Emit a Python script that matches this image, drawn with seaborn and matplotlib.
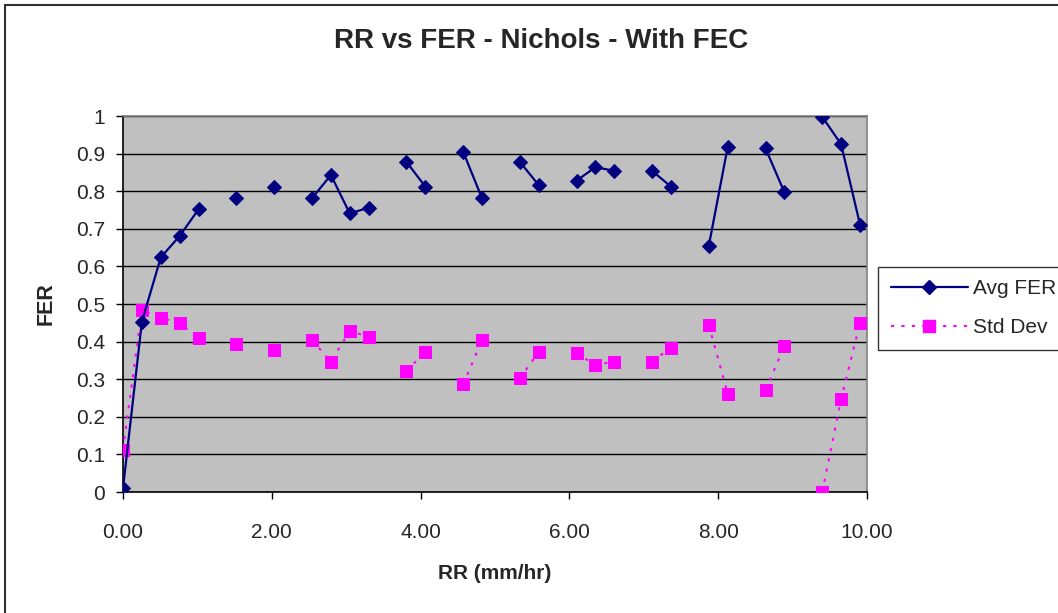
import numpy as np
import pandas as pd
import matplotlib
matplotlib.use("Agg")
import matplotlib.pyplot as plt
import seaborn as sns
from matplotlib.lines import Line2D

# Data (bin index k; RR = k * 0.254 mm/hr)
bins = [0, 1, 2, 3, 4, 6, 8, 10, 11, 12, 13, 15, 16, 18, 19, 21, 22, 24, 25, 26,
        28, 29, 31, 32, 34, 35, 37, 38, 39]
avg_fer = [0.01, 0.453, 0.624, 0.681, 0.752, 0.781, 0.812, 0.781, 0.843, 0.741, 0.756,
           0.878, 0.812, 0.905, 0.781, 0.878, 0.816, 0.828, 0.864, 0.854,
           0.854, 0.812, 0.655, 0.918, 0.914, 0.797, 0.998, 0.925, 0.711]
std_dev = [0.113, 0.484, 0.464, 0.449, 0.409, 0.393, 0.378, 0.404, 0.347, 0.428, 0.413,
           0.322, 0.373, 0.286, 0.404, 0.302, 0.373, 0.369, 0.338, 0.347,
           0.347, 0.384, 0.444, 0.261, 0.271, 0.388, 0.0, 0.247, 0.450]
x_ticks = [0, 2, 4, 6, 8, 10]
x_tick_labels = ["0.00", "2.00", "4.00", "6.00", "8.00", "10.00"]
y_ticks = [0, 0.1, 0.2, 0.3, 0.4, 0.5, 0.6, 0.7, 0.8, 0.9, 1.0]
y_tick_labels = ["0", "0.1", "0.2", "0.3", "0.4", "0.5", "0.6", "0.7", "0.8", "0.9", "1"]

rr = [k * 0.254 for k in bins]
# segments: consecutive bins connected
seg = []
s = 0
for i, k in enumerate(bins):
    if i > 0 and k != bins[i - 1] + 1:
        s += 1
    seg.append(s)

df = pd.DataFrame({"RR": rr, "Avg FER": avg_fer, "Std Dev": std_dev, "seg": seg})

sns.set_style("white")
plt.rcParams["font.family"] = ["Liberation Sans", "DejaVu Sans"]

W, H = 1058, 613
fig = plt.figure(figsize=(W / 100, H / 100), dpi=100)
ax = fig.add_axes([123 / W, 1 - 492 / H, (867 - 123) / W, (492 - 116) / H])
ax.set_facecolor("#C0C0C0")

navy = "#000080"
mag = "#FF00FF"
dot = (0, (1.5, 3.5))

sns.lineplot(data=df, x="RR", y="Std Dev", units="seg", estimator=None, ax=ax,
             color=mag, linestyle=dot, linewidth=1.5, marker="s",
             markersize=8, markeredgecolor=mag, markerfacecolor=mag, sort=False, zorder=3)
sns.lineplot(data=df, x="RR", y="Avg FER", units="seg", estimator=None, ax=ax,
             color=navy, linewidth=1.6, marker="D", markersize=7.5,
             markeredgecolor=navy, markerfacecolor=navy, sort=False, zorder=4)

ax.set_xlim(0, 10)
ax.set_ylim(0, 1)
ax.set_xticks(x_ticks)
ax.set_xticklabels(x_tick_labels)
ax.set_yticks(y_ticks)
ax.set_yticklabels(y_tick_labels)
ax.yaxis.grid(True, color="black", linewidth=1)
ax.xaxis.grid(False)
ax.set_axisbelow(True)
ax.tick_params(axis="both", direction="out", length=5, width=1, color="black",
               labelsize=15, left=True, bottom=True)
ax.tick_params(axis="x", pad=17)
ax.tick_params(axis="y", pad=8)
for sp in ax.spines.values():
    sp.set_color("#808080")
    sp.set_linewidth(1.2)
ax.spines["left"].set_color("black")
ax.spines["bottom"].set_color("black")

ax.set_xlabel("RR (mm/hr)", fontsize=15, fontweight="bold")
ax.set_ylabel("FER", fontsize=15.5, fontweight="bold")
ax.xaxis.set_label_coords((495 - 123) / (867 - 123), -(564 - 492) / (492 - 116))
ax.yaxis.set_label_coords(-(123 - 57) / (867 - 123), 0.5)
fig.text(541 / W, 1 - 41 / H, "RR vs FER - Nichols - With FEC", ha="center", va="center",
         fontsize=20, fontweight="bold")

handles = [Line2D([0], [0], color=navy, linewidth=1.6, marker="D", markersize=7.5,
                  markerfacecolor=navy, markeredgecolor=navy),
           Line2D([0], [0], color=mag, linestyle=dot, linewidth=1.5, marker="s",
                  markersize=8, markerfacecolor=mag, markeredgecolor=mag)]
leg = fig.legend(handles, ["Avg FER", "Std Dev"], loc="upper left",
                 bbox_to_anchor=(878 / W, 1 - 267 / H), frameon=True, fancybox=False,
                 edgecolor="black", fontsize=15, handlelength=3.7, borderpad=0.6,
                 labelspacing=0.95, handletextpad=0.25, borderaxespad=0)
leg.get_frame().set_linewidth(1)

# outer chart border (top and left visible; the rest is clipped in the original)
fig.add_artist(Line2D([5 / W, 5 / W], [0, 1 - 5 / H], transform=fig.transFigure,
                      color="#303030", linewidth=1.5))
fig.add_artist(Line2D([5 / W, 1], [1 - 5 / H, 1 - 5 / H], transform=fig.transFigure,
                      color="#303030", linewidth=1.5))

fig.savefig("out.png", dpi=100)
